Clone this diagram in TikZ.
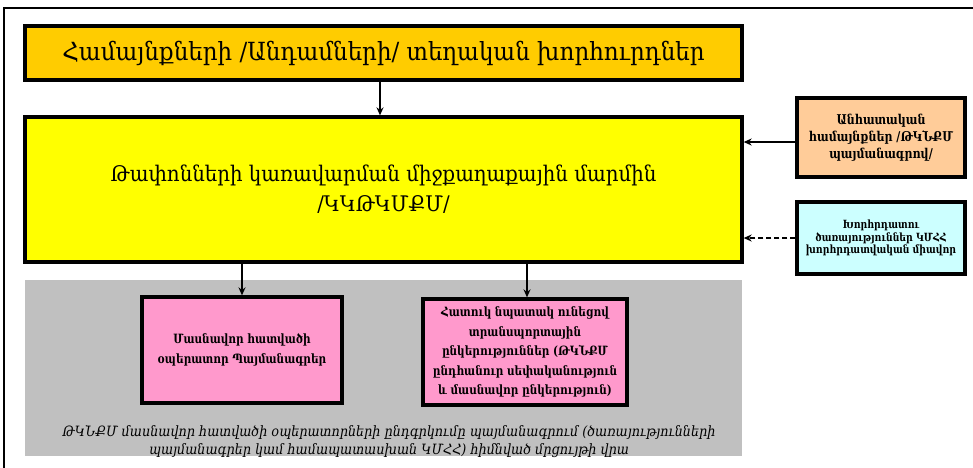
\documentclass[tikz,border=0pt]{standalone}
\usepackage{fontspec}
\setmainfont{DejaVu Serif}
\newfontfamily\armfont[FakeStretch=0.82]{DejaVu Serif}
\newfontfamily\armwide[FakeStretch=0.92]{DejaVu Serif}
\newfontfamily\armnote[FakeStretch=0.9]{DejaVu Serif}
\usetikzlibrary{arrows.meta}
\definecolor{councilgold}{HTML}{FFCC00}
\definecolor{bodyyellow}{HTML}{FFFF00}
\definecolor{peach}{HTML}{FFCC99}
\definecolor{paleaqua}{HTML}{CCFFFF}
\definecolor{pinkbox}{HTML}{FF99CC}
\definecolor{panelgray}{HTML}{C0C0C0}
\tikzset{
  block/.style={draw=black, line width=3.3pt, align=center, inner sep=2pt},
  link/.style={line width=1.8pt, -{Stealth[length=8pt,width=7pt]}},
  dlink/.style={link, dash pattern=on 5pt off 3pt},
  headtext/.style={font=\armwide\fontsize{25}{30}\selectfont},
  bigtext/.style={font=\armwide\fontsize{21.5}{30}\selectfont},
  smalltext/.style={font=\armfont\bfseries\fontsize{12.8}{19.5}\selectfont},
  sidetext/.style={font=\armfont\bfseries\fontsize{13.5}{17}\selectfont},
  tinytext/.style={font=\armfont\bfseries\fontsize{11.3}{12.5}\selectfont}
}
\begin{document}
\begin{tikzpicture}[x=1pt,y=-1pt]
\useasboundingbox (0,0) rectangle (973,467);
% outer frame, open to the right and the bottom
\draw[line width=2pt] (4,470) -- (4,8) -- (980,8);
% grey panel behind the two lower boxes
\node[fill=panelgray, minimum width=717pt, minimum height=176pt, inner sep=0pt] (panel) at (383.5,368) {};
\node[font=\armnote\itshape\fontsize{14.2}{18}\selectfont, align=center] (note) at (389,442)
  {ԹԿՆՔՄ մասնավոր հատվածի օպերատորների ընդգրկումը պայմանագրում (ծառայությունների\\
   պայմանագրեր կամ համապատասխան ԿՄՀՀ) հիմնված մրցույթի վրա};
% boxes
\node[block, headtext, fill=councilgold, minimum width=717pt, minimum height=54pt] (top) at (383.5,53)
  {Համայնքների /Անդամների/ տեղական խորհուրդներ};
\node[block, bigtext, fill=bodyyellow, minimum width=717pt, minimum height=145pt] (main) at (383.5,189.5)
  {Թափոնների կառավարման միջքաղաքային մարմին\\ /ԿԿԹԿՄՔՄ/};
\node[block, smalltext, fill=pinkbox, minimum width=200pt, minimum height=106pt] (priv) at (242,350)
  {Մասնավոր հատվածի\\ օպերատոր Պայմանագրեր};
\node[block, smalltext, fill=pinkbox, minimum width=204pt, minimum height=106pt] (trans) at (525,352)
  {Հատուկ նպատակ ունեցով\\ տրանսպորտային\\ ընկերություններ (ԹԿՆՔՄ\\ ընդհանուր սեփականություն\\ և մասնավոր ընկերություն)};
\node[block, sidetext, fill=peach, minimum width=168pt, minimum height=79pt] (indep) at (881,137.5)
  {Անհատական\\ համայնքներ /ԹԿՆՔՄ\\ պայմանագրով/};
\node[block, tinytext, fill=paleaqua, minimum width=168pt, minimum height=72pt] (advice) at (881,238)
  {Խորհրդատու\\ ծառայություններ ԿՄՀՀ\\ խորհրդատվական միավոր};
% connectors
\draw[link] (top.south -| 380,0) -- (main.north -| 380,0);
\draw[link] (main.south -| priv.north) -- (priv.north);
\draw[link] (main.south -| 527,0) -- (trans.north -| 527,0);
\draw[link] (indep.west |- 0,142) -- (main.east |- 0,142);
\draw[dlink] (advice.west) -- (main.east |- advice.west);
\end{tikzpicture}
\end{document}
